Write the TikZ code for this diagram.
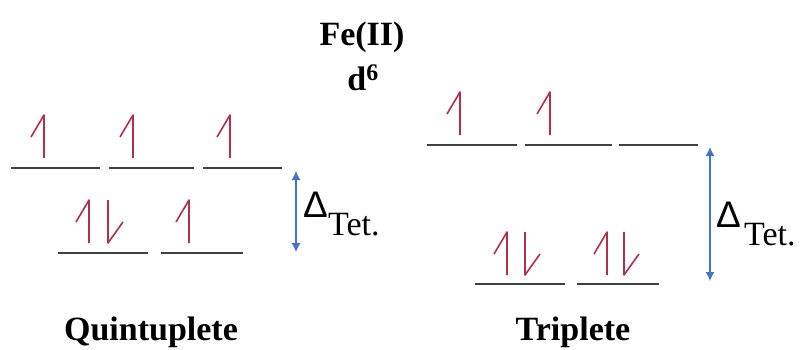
\documentclass[tikz,border=0pt]{standalone}
\usepackage{fontspec}
\setmainfont{Liberation Serif}
\newfontfamily\dsans{Liberation Sans}
\usetikzlibrary{arrows.meta}
\definecolor{spinred}{RGB}{176,48,72}
\definecolor{levelgray}{RGB}{64,64,64}
\definecolor{gapblue}{RGB}{68,114,196}
\tikzset{
  level/.style={draw=levelgray, line width=1.8pt},
  spin/.style={draw=spinred, line width=1.6pt, line join=round},
  gap/.style={draw=gapblue, line width=1.3pt, {Latex[length=9pt,width=9pt]}-{Latex[length=9pt,width=9pt]}},
  title/.style={font=\bfseries\fontsize{34}{38}\selectfont, inner sep=0pt, anchor=base},
  deltatxt/.style={inner sep=0pt, anchor=base west, font=\dsans\fontsize{37}{40}\selectfont},
  tettxt/.style={inner sep=0pt, anchor=base west, font=\fontsize{34}{38}\selectfont},
  spinup/.pic={\draw[spin] (0,0) -- (0,-43) -- (-13,-21);},
  spindown/.pic={\draw[spin] (0,-43) -- (0,0) -- (15,-21);},
}
\begin{document}
\begin{tikzpicture}[x=1pt,y=-1pt]
\useasboundingbox (0,0) rectangle (800,349);
% titles
\node[title] (fe) at (362,45) {Fe(II)};
\node[title] (d6) at (363,90) {d\textsuperscript{6}};
\node[title] (quint) at (151,340) {Quintuplete};
\node[title] (trip) at (573,340) {Triplete};
% Quintuplete levels
\coordinate (q1a) at (11,168); \coordinate (q1b) at (100,168);
\coordinate (q2a) at (109,168); \coordinate (q2b) at (194,168);
\coordinate (q3a) at (203,168); \coordinate (q3b) at (282,168);
\coordinate (q4a) at (58,253); \coordinate (q4b) at (148,253);
\coordinate (q5a) at (161,253); \coordinate (q5b) at (243,253);
\draw[level] (q1a) -- (q1b);
\draw[level] (q2a) -- (q2b);
\draw[level] (q3a) -- (q3b);
\draw[level] (q4a) -- (q4b);
\draw[level] (q5a) -- (q5b);
\pic at (44,158) {spinup};
\pic at (133,158) {spinup};
\pic at (230,158) {spinup};
\pic at (89,243) {spinup};
\pic at (108,243) {spindown};
\pic at (189,243) {spinup};
\coordinate (qgt) at (296,171);
\coordinate (qgb) at (296,252);
\draw[gap] (qgt) -- (qgb);
\node[deltatxt] (qdelta) at (303,217) {Δ};
\node[tettxt] (qtet) at (328,235) {Tet.};
% Triplete levels
\coordinate (t1a) at (427,145); \coordinate (t1b) at (517,145);
\coordinate (t2a) at (525,145); \coordinate (t2b) at (612,145);
\coordinate (t3a) at (619,145); \coordinate (t3b) at (698,145);
\coordinate (t4a) at (475,284); \coordinate (t4b) at (565,284);
\coordinate (t5a) at (577,284); \coordinate (t5b) at (659,284);
\draw[level] (t1a) -- (t1b);
\draw[level] (t2a) -- (t2b);
\draw[level] (t3a) -- (t3b);
\draw[level] (t4a) -- (t4b);
\draw[level] (t5a) -- (t5b);
\pic at (460,135) {spinup};
\pic at (550,135) {spinup};
\pic at (507,275) {spinup};
\pic at (525,275) {spindown};
\pic at (607,275) {spinup};
\pic at (624,275) {spindown};
\coordinate (tgt) at (710,147);
\coordinate (tgb) at (710,281);
\draw[gap] (tgt) -- (tgb);
\node[deltatxt] (tdelta) at (716,227) {Δ};
\node[tettxt] (ttet) at (744,245) {Tet.};
\end{tikzpicture}
\end{document}
